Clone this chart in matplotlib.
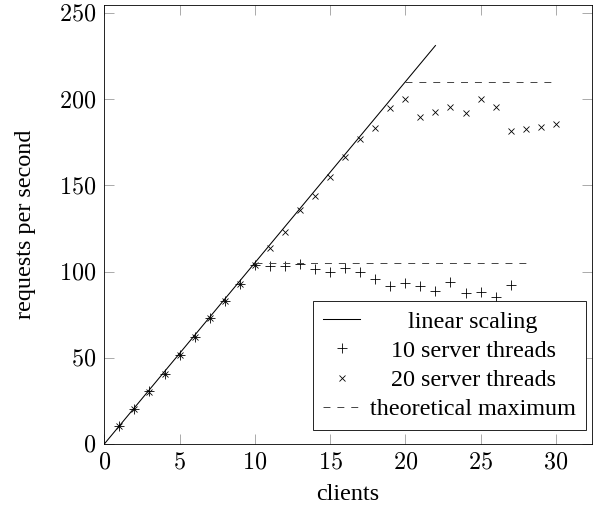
import matplotlib
matplotlib.use('Agg')
import matplotlib.pyplot as plt
from matplotlib.ticker import FuncFormatter

plt.rcParams['font.family'] = ['Liberation Serif', 'DejaVu Serif']
plt.rcParams['mathtext.fontset'] = 'cm'
plt.rcParams['lines.scale_dashes'] = False

# per-client rate of the ideal system
rate = 10.5
linear_x = [0, 22]

clients = list(range(1, 31))
threads10_x = list(range(1, 28))
threads10_y = [10.4, 20.1, 30.6, 40.6, 51.6, 61.8, 72.9, 82.9, 93.0,
               103.8, 103.3, 103.4, 104.3, 101.4, 99.9, 102.2, 99.9, 95.7,
               91.6, 93.1, 91.6, 88.9, 94.1, 87.7, 88.3, 85.4, 92.2]
threads20_y = [10.2, 20.3, 30.4, 40.8, 51.4, 62.0, 73.1, 83.1, 92.8,
               103.8, 113.8, 122.7, 135.7, 143.9, 154.6, 166.4, 176.8, 183.4,
               194.6, 199.8, 189.7, 192.6, 195.5, 192.1, 199.8, 195.2, 181.6,
               182.4, 183.9, 185.5]
max10_x = [10, 28]
max10_y = [105, 105]
max20_x = [20, 30]
max20_y = [210, 210]

fs = 17.4

fig = plt.figure(figsize=(5.94, 5.07), dpi=100)
ax = fig.add_axes([0.1756, 0.1243, 0.9966 - 0.1756, 0.9901 - 0.1243])

ax.plot(linear_x, [rate * x for x in linear_x], color='black', lw=0.75,
        label='linear scaling')
ax.plot(threads10_x, threads10_y, ls='none', marker='+', ms=6.5, mew=0.6,
        color='black', label='10 server threads')
ax.plot(clients, threads20_y, ls='none', marker='x', ms=5, mew=0.6,
        color='black', label='20 server threads')
ax.plot(max20_x, max20_y, color='#444444', lw=0.7, ls=(0, (5, 5)),
        label='theoretical maximum')
ax.plot(max10_x, max10_y, color='#444444', lw=0.7, ls=(0, (5, 5)))

ax.set_xlim(0, 32.4)
ax.set_ylim(0, 254.5)
ax.set_xticks(range(0, 31, 5))
ax.set_yticks(range(0, 251, 50))
fmt = FuncFormatter(lambda v, p: f'${v:g}$')
ax.xaxis.set_major_formatter(fmt)
ax.yaxis.set_major_formatter(fmt)
ax.tick_params(direction='in', length=7, width=0.5, color='#888888',
               labelsize=fs, top=True, right=True, pad=6)
for s in ax.spines.values():
    s.set_linewidth(0.6)
    s.set_color('black')

ax.set_xlabel('clients', fontsize=fs, labelpad=8)
ax.set_ylabel('requests per second', fontsize=fs, labelpad=16)

leg = ax.legend(loc='lower right', bbox_to_anchor=(0.987, 0.032),
                borderaxespad=0, fontsize=fs, fancybox=False,
                edgecolor='black', framealpha=1, handlelength=1.55,
                handletextpad=0.4, labelspacing=0.3, borderpad=0.4)
leg.get_frame().set_linewidth(0.6)

# centre the legend labels like the original
fig.canvas.draw()
renderer = fig.canvas.get_renderer()
widths = [t.get_window_extent(renderer).width for t in leg.get_texts()]
shift = max(widths)
for t, w in zip(leg.get_texts(), widths):
    t.set_position(((shift - w) / 2, 0))

fig.savefig('out.png', dpi=100)
